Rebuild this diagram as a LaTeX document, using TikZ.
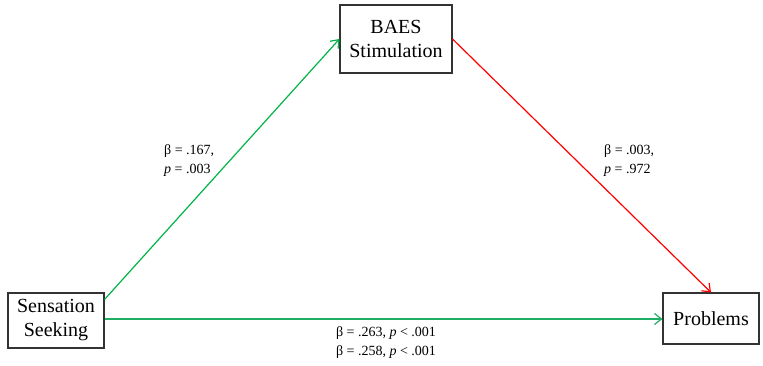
\documentclass[tikz,border=0pt]{standalone}
\usepackage{fontspec}
\setmainfont{Liberation Serif}
\usetikzlibrary{arrows.meta}
\definecolor{pathgreen}{RGB}{0,180,70}
\definecolor{pathteal}{RGB}{30,175,100}
\definecolor{pathred}{RGB}{255,0,0}
\tikzset{
  varbox/.style={draw=black!80, line width=1.1pt, align=center, inner sep=0pt,
    font=\fontsize{20}{24}\selectfont},
  pathlab/.style={align=left, inner sep=0pt, font=\fontsize{14}{19}\selectfont},
  link/.style={line width=1.2pt, -{Straight Barb[length=7pt,width=11pt,line width=1.2pt]}}
}

\begin{document}
\begin{tikzpicture}[x=1pt,y=-1pt]
\useasboundingbox (0,0) rectangle (763,366);
% boxes
\node[varbox, minimum width=112pt, minimum height=68pt] (baes) at (396,39) {BAES\\Stimulation};
\node[varbox, minimum width=96pt, minimum height=55pt] (ss) at (56,320.5) {Sensation\\Seeking};
\node[varbox, minimum width=96pt, minimum height=51pt] (prob) at (711,318.5) {Problems};
% paths
\draw[link, pathgreen] ([yshift=-7pt]ss.north east) -- (baes.west);
\draw[link, pathred] (baes.east) -- (prob.north);
\draw[link, pathteal] ([yshift=1.5pt]ss.east) -- ([yshift=1.5pt]ss.east -| prob.west);
% coefficients
\node[pathlab, anchor=north west] (lab-a) at (164,144) {β = .167,\\\textit{p} = .003};
\node[pathlab, anchor=north west] (lab-b) at (604,144) {β = .003,\\\textit{p} = .972};
\node[pathlab, align=center, anchor=north] (lab-c) at (386,326) {β = .263, \textit{p} < .001\\β = .258, \textit{p} < .001};
\end{tikzpicture}
\end{document}
